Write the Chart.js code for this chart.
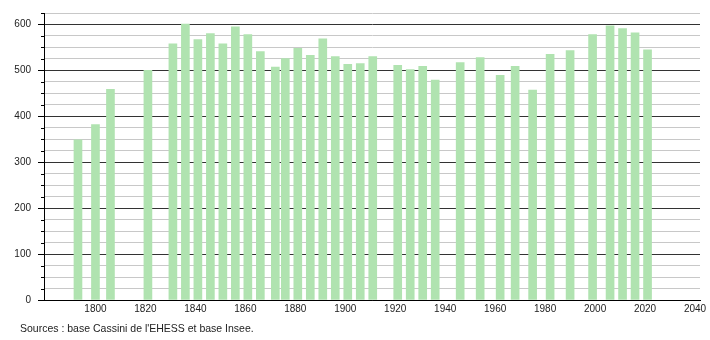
<!DOCTYPE html>
<html>
<head>
<meta charset="utf-8">
<script src="https://cdn.jsdelivr.net/npm/chart.js@4"></script>
<style>
html,body{margin:0;padding:0;background:#fff;}
#wrap{width:710px;height:340px;position:relative;}
</style>
</head>
<body>
<div id="wrap"><canvas id="c" width="710" height="340"></canvas></div>
<script>
const years = [1793,1800,1806,1821,1831,1836,1841,1846,1851,1856,1861,1866,1872,1876,1881,1886,1891,1896,1901,1906,1911,1921,1926,1931,1936,1946,1954,1962,1968,1975,1982,1990,1999,2006,2011,2016,2021];
const population = [349,382,459,500,558,601,567,580,558,595,578,541,507,526,548,533,569,530,513,515,530,511,502,509,479,517,528,489,509,457,535,543,578,597,591,582,545];
const xTickYears = [1800,1820,1840,1860,1880,1900,1920,1940,1960,1980,2000,2020,2040];
const sourceText = "Sources : base Cassini de l'EHESS et base Insee.";

const points = years.map((y, i) => ({x: y, y: population[i]}));

const minorTicks = {
  id: 'minorTicks',
  afterDraw(chart) {
    const ys = chart.scales.y;
    const ctx = chart.ctx;
    ctx.save();
    ctx.strokeStyle = '#000';
    ctx.lineWidth = 1;
    ys.ticks.forEach(t => {
      if (t.value % 100 !== 0) {
        const py = Math.round(ys.getPixelForValue(t.value)) + 0.5;
        ctx.beginPath();
        ctx.moveTo(ys.right - 3, py);
        ctx.lineTo(ys.right, py);
        ctx.stroke();
      }
    });
    ctx.fillStyle = '#222';
    ctx.font = '10.5px "Liberation Sans", Arial, sans-serif';
    ctx.textBaseline = 'middle';
    ctx.textAlign = 'left';
    ctx.fillText(sourceText, 20, 329);
    ctx.restore();
  }
};

new Chart(document.getElementById('c'), {
  type: 'bar',
  data: {
    datasets: [{
      data: points,
      backgroundColor: 'rgb(176,227,176)',
      borderWidth: 0,
      barThickness: 8
    }]
  },
  options: {
    responsive: false,
    animation: false,
    layout: {padding: {top: 10, right: 10, left: 0, bottom: 0}},
    plugins: {legend: {display: false}, tooltip: {enabled: false}},
    scales: {
      x: {
        type: 'linear',
        min: 1779.4,
        max: 2042,
        offset: false,
        afterBuildTicks: (s) => { s.ticks = xTickYears.map(v => ({value: v})); },
        afterFit: (s) => { s.height = 40; },
        grid: {display: false, drawTicks: false},
        border: {display: true, color: '#000', width: 1},
        ticks: {
          padding: 3,
          color: '#222',
          font: {family: '"Liberation Sans", Arial, sans-serif', size: 10},
          maxRotation: 0,
          autoSkip: false,
          callback: (v) => String(v)
        }
      },
      y: {
        min: 0,
        max: 625,
        afterFit: (s) => { s.width = 44; },
        afterBuildTicks: (s) => {
          const arr = [];
          for (let v = 0; v <= 625; v += 25) arr.push({value: v});
          s.ticks = arr;
        },
        border: {display: true, color: '#000', width: 1},
        grid: {
          drawTicks: true,
          tickLength: 6,
          color: (c) => c.tick && c.tick.value === 0 ? '#000' : (c.tick && c.tick.value % 100 === 0 ? '#333' : '#c8c8c8'),
          tickColor: (c) => c.tick && c.tick.value % 100 === 0 ? '#000' : 'rgba(0,0,0,0)'
        },
        ticks: {
          padding: 7,
          color: '#222',
          autoSkip: false,
          font: {family: '"Liberation Sans", Arial, sans-serif', size: 10},
          callback: (v) => (v % 100 === 0 ? String(v) : '')
        }
      }
    }
  },
  plugins: [minorTicks]
});
</script>
</body>
</html>
